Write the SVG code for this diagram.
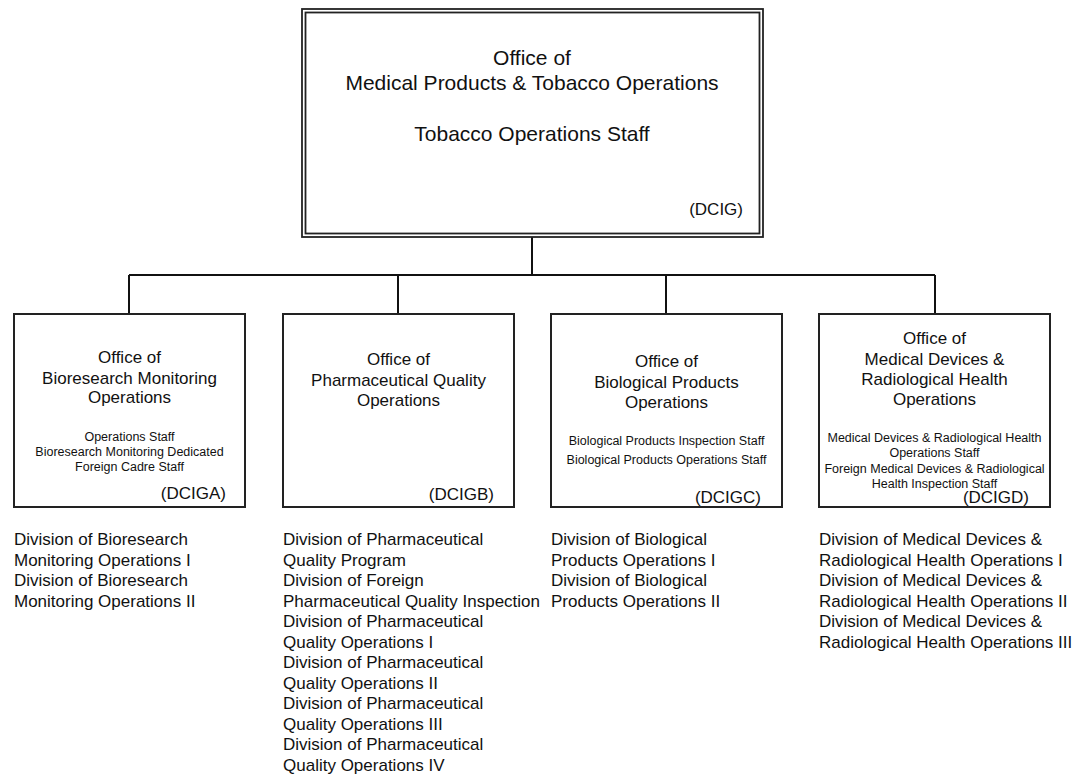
<svg xmlns="http://www.w3.org/2000/svg" width="1078" height="775" viewBox="0 0 1078 775">
<style>
  .box { fill: #ffffff; stroke: #222222; stroke-width: 2; }
  .dbl { fill: none; stroke: #222222; stroke-width: 1.8; }
  .conn { fill: none; stroke: #111111; stroke-width: 2; }
  text { font-family: "Liberation Sans", Arial, sans-serif; fill: #111111; }
  .t21 { font-size: 21px; text-anchor: middle; }
  .t17 { font-size: 17px; text-anchor: middle; }
  .code { font-size: 17px; text-anchor: end; }
  .small { font-size: 12.5px; text-anchor: middle; }
  .list { font-size: 17px; }
</style>
<rect width="1078" height="775" fill="#ffffff"/>
<g id="connectors">
  <path class="conn" d="M532,237 V275 M129,275 H935 M129,275 V314 M398,275 V314 M666,275 V314 M935,275 V314"/>
</g>
<g id="DCIG">
  <rect x="302" y="9" width="461" height="228" fill="#ffffff"/>
  <rect class="dbl" x="302" y="9" width="461" height="228"/>
  <rect class="dbl" x="305.5" y="12.5" width="454" height="221"/>
  <text class="t21" x="532" y="65">Office of</text>
  <text class="t21" x="532" y="90">Medical Products &amp; Tobacco Operations</text>
  <text class="t21" x="532" y="141">Tobacco Operations Staff</text>
  <text class="code" x="743" y="215">(DCIG)</text>
</g>
<g id="DCIGA">
  <rect class="box" x="14" y="314" width="231" height="193"/>
  <text class="t17" x="129.5" y="363">Office of</text>
  <text class="t17" x="129.5" y="383.5">Bioresearch Monitoring</text>
  <text class="t17" x="129.5" y="403">Operations</text>
  <text class="small" x="129.5" y="440.5">Operations Staff</text>
  <text class="small" x="129.5" y="455.5">Bioresearch Monitoring Dedicated</text>
  <text class="small" x="129.5" y="470.5">Foreign Cadre Staff</text>
  <text class="code" x="226" y="499">(DCIGA)</text>
</g>
<g id="DCIGB">
  <rect class="box" x="283" y="314" width="231" height="193"/>
  <text class="t17" x="398.5" y="365">Office of</text>
  <text class="t17" x="398.5" y="385.5">Pharmaceutical Quality</text>
  <text class="t17" x="398.5" y="405.5">Operations</text>
  <text class="code" x="494" y="500">(DCIGB)</text>
</g>
<g id="DCIGC">
  <rect class="box" x="551" y="314" width="231" height="193"/>
  <text class="t17" x="666.5" y="367">Office of</text>
  <text class="t17" x="666.5" y="387.5">Biological Products</text>
  <text class="t17" x="666.5" y="408">Operations</text>
  <text class="small" x="666.5" y="445">Biological Products Inspection Staff</text>
  <text class="small" x="666.5" y="464">Biological Products Operations Staff</text>
  <text class="code" x="761" y="503">(DCIGC)</text>
</g>
<g id="DCIGD">
  <rect class="box" x="819" y="314" width="231" height="193"/>
  <text class="t17" x="934.5" y="344">Office of</text>
  <text class="t17" x="934.5" y="364.5">Medical Devices &amp;</text>
  <text class="t17" x="934.5" y="385">Radiological Health</text>
  <text class="t17" x="934.5" y="405">Operations</text>
  <text class="small" x="934.5" y="441.5">Medical Devices &amp; Radiological Health</text>
  <text class="small" x="934.5" y="457">Operations Staff</text>
  <text class="small" x="934.5" y="472.5">Foreign Medical Devices &amp; Radiological</text>
  <text class="small" x="934.5" y="488">Health Inspection Staff</text>
  <text class="code" x="1029" y="503">(DCIGD)</text>
</g>
<g id="divisions-A">
  <text class="list" x="14" y="545">Division of Bioresearch</text>
  <text class="list" x="14" y="565.5">Monitoring Operations I</text>
  <text class="list" x="14" y="586">Division of Bioresearch</text>
  <text class="list" x="14" y="606.5">Monitoring Operations II</text>
</g>
<g id="divisions-B">
  <text class="list" x="283" y="545">Division of Pharmaceutical</text>
  <text class="list" x="283" y="565.5">Quality Program</text>
  <text class="list" x="283" y="586">Division of Foreign</text>
  <text class="list" x="283" y="606.5">Pharmaceutical Quality Inspection</text>
  <text class="list" x="283" y="627">Division of Pharmaceutical</text>
  <text class="list" x="283" y="647.5">Quality Operations I</text>
  <text class="list" x="283" y="668">Division of Pharmaceutical</text>
  <text class="list" x="283" y="688.5">Quality Operations II</text>
  <text class="list" x="283" y="709">Division of Pharmaceutical</text>
  <text class="list" x="283" y="729.5">Quality Operations III</text>
  <text class="list" x="283" y="750">Division of Pharmaceutical</text>
  <text class="list" x="283" y="770.5">Quality Operations IV</text>
</g>
<g id="divisions-C">
  <text class="list" x="551" y="545">Division of Biological</text>
  <text class="list" x="551" y="565.5">Products Operations I</text>
  <text class="list" x="551" y="586">Division of Biological</text>
  <text class="list" x="551" y="606.5">Products Operations II</text>
</g>
<g id="divisions-D">
  <text class="list" x="819" y="545">Division of Medical Devices &amp;</text>
  <text class="list" x="819" y="565.5">Radiological Health Operations I</text>
  <text class="list" x="819" y="586">Division of Medical Devices &amp;</text>
  <text class="list" x="819" y="606.5">Radiological Health Operations II</text>
  <text class="list" x="819" y="627">Division of Medical Devices &amp;</text>
  <text class="list" x="819" y="647.5">Radiological Health Operations III</text>
</g>
</svg>
